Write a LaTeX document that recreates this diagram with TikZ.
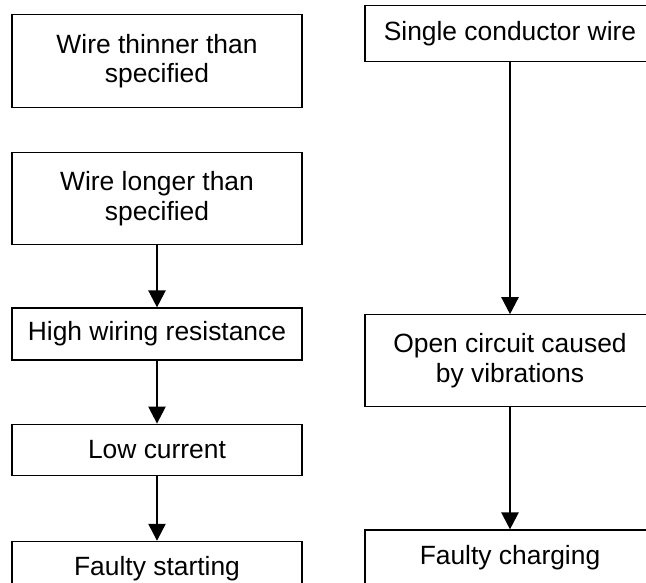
\documentclass[tikz,border=0pt]{standalone}
\usepackage{fontspec}
\setmainfont{Liberation Sans}
\usetikzlibrary{arrows.meta,positioning}
\tikzset{
  causebox/.style={
    rectangle, draw=black, line width=1.2pt,
    fill=white, minimum width=290pt, align=center,
    inner sep=2pt, font=\fontsize{26.4}{29.5}\selectfont
  },
  causearrow/.style={-{Triangle[length=17pt,width=17pt]}, line width=2.4pt, color=black},
}
\begin{document}
\begin{tikzpicture}[x=1pt,y=-1pt]
  \clip (0,0) rectangle (646,582);
  \fill[white] (0,0) rectangle (646,582);

  % left chain
  \node[causebox, minimum height=93pt, anchor=north] (thin) at (157,14) {Wire thinner than\\specified};
  \node[causebox, minimum height=92pt, below=44pt of thin] (long) {Wire longer than\\specified};
  \node[causebox, minimum height=52pt, below=62pt of long] (resist) {High wiring resistance};
  \node[causebox, minimum height=51pt, below=63pt of resist] (lowcur) {Low current};
  \node[causebox, minimum height=55pt, below=65pt of lowcur] (start) {Faulty starting};

  % right chain
  \node[causebox, minimum height=56pt, anchor=north] (single) at (510,5) {Single conductor wire};
  \node[causebox, minimum height=92pt, below=252pt of single] (opencirc) {Open circuit caused\\by vibrations};
  \node[causebox, minimum height=55pt, below=122pt of opencirc] (charge) {Faulty charging};

  \draw[causearrow] (long) -- (resist);
  \draw[causearrow] (resist) -- (lowcur);
  \draw[causearrow] (lowcur) -- (start);
  \draw[causearrow] (single) -- (opencirc);
  \draw[causearrow] (opencirc) -- (charge);
\end{tikzpicture}
\end{document}
